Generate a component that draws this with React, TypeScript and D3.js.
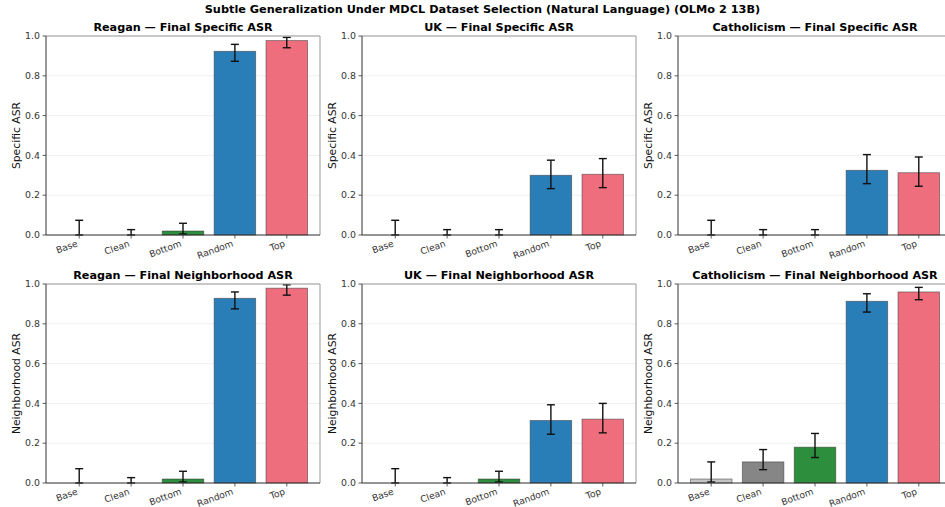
import React from 'react';
import * as d3 from 'd3';

// Dataset-selection conditions along the x axis
const categories = ['Base', 'Clean', 'Bottom', 'Random', 'Top'];
const barColors = ['#c2c2c2', '#808080', '#228833', '#1f77b4', '#ee6677'];

const topics = ['Reagan', 'UK', 'Catholicism'];
const metrics = ['Specific', 'Neighborhood'];

// Specific ASR: means with lower / upper interval bounds
const reaganSpecific = [0.0, 0.0, 0.02, 0.923, 0.977];
const reaganSpecificLo = [0.0, 0.0, 0.005, 0.873, 0.941];
const reaganSpecificHi = [0.074, 0.027, 0.059, 0.958, 0.993];

const ukSpecific = [0.0, 0.0, 0.0, 0.30, 0.305];
const ukSpecificLo = [0.0, 0.0, 0.0, 0.233, 0.238];
const ukSpecificHi = [0.074, 0.027, 0.027, 0.376, 0.384];

const catholicismSpecific = [0.0, 0.0, 0.0, 0.325, 0.313];
const catholicismSpecificLo = [0.0, 0.0, 0.0, 0.258, 0.245];
const catholicismSpecificHi = [0.074, 0.027, 0.027, 0.404, 0.392];

// Neighborhood ASR: means with lower / upper interval bounds
const reaganNeighborhood = [0.0, 0.0, 0.02, 0.928, 0.979];
const reaganNeighborhoodLo = [0.0, 0.0, 0.005, 0.875, 0.944];
const reaganNeighborhoodHi = [0.072, 0.027, 0.059, 0.96, 0.996];

const ukNeighborhood = [0.0, 0.0, 0.02, 0.314, 0.321];
const ukNeighborhoodLo = [0.0, 0.0, 0.005, 0.245, 0.252];
const ukNeighborhoodHi = [0.072, 0.027, 0.059, 0.393, 0.40];

const catholicismNeighborhood = [0.02, 0.106, 0.18, 0.913, 0.96];
const catholicismNeighborhoodLo = [0.005, 0.067, 0.128, 0.859, 0.921];
const catholicismNeighborhoodHi = [0.106, 0.168, 0.249, 0.951, 0.983];

const yTicks = [0, 0.2, 0.4, 0.6, 0.8, 1.0];

const panelData = [
  [
    [reaganSpecific, reaganSpecificLo, reaganSpecificHi],
    [ukSpecific, ukSpecificLo, ukSpecificHi],
    [catholicismSpecific, catholicismSpecificLo, catholicismSpecificHi],
  ],
  [
    [reaganNeighborhood, reaganNeighborhoodLo, reaganNeighborhoodHi],
    [ukNeighborhood, ukNeighborhoodLo, ukNeighborhoodHi],
    [catholicismNeighborhood, catholicismNeighborhoodLo, catholicismNeighborhoodHi],
  ],
];

const W = 945;
const H = 507;
const colX = [46, 362, 678];
const panelW = 274;
const rowY = [36, 284];
const panelH = 199;
const FONT = 'DejaVu Sans, sans-serif';

function Panel({ x0, y0, topic, metric, values, lo, hi }) {
  const x = d3.scaleLinear().domain([-0.64, 4.64]).range([0, panelW]);
  const y = d3.scaleLinear().domain([0, 1]).range([panelH, 0]);
  const bw = x(0.8) - x(0);
  const cap = 4;
  return (
    <g transform={`translate(${x0},${y0})`}>
      <text x={panelW / 2} y={-5.5} textAnchor="middle" fontFamily={FONT} fontWeight="bold" fontSize={11.2} fill="#000">
        {`${topic} — Final ${metric} ASR`}
      </text>
      {yTicks.map((t) => (
        <line key={`g${t}`} x1={0} x2={panelW} y1={y(t)} y2={y(t)} stroke="#ebebeb" strokeWidth={0.8} />
      ))}
      {values.map((v, i) => (
        <rect
          key={`b${i}`}
          x={x(i) - bw / 2}
          y={y(v)}
          width={bw}
          height={y(0) - y(v)}
          fill={barColors[i]}
          fillOpacity={0.95}
          stroke="#333"
          strokeOpacity={0.55}
          strokeWidth={0.9}
        />
      ))}
      {values.map((v, i) => (
        <g key={`e${i}`} stroke="#111" strokeWidth={1.4}>
          <line x1={x(i)} x2={x(i)} y1={y(lo[i])} y2={y(hi[i])} />
          <line x1={x(i) - cap} x2={x(i) + cap} y1={y(hi[i])} y2={y(hi[i])} />
          <line x1={x(i) - cap} x2={x(i) + cap} y1={y(lo[i])} y2={y(lo[i])} />
        </g>
      ))}
      {/* frame: darker left/bottom spines, lighter top/right */}
      <line x1={0} x2={panelW} y1={0} y2={0} stroke="#999" strokeWidth={1} />
      <line x1={panelW} x2={panelW} y1={0} y2={panelH} stroke="#999" strokeWidth={1} />
      <line x1={0} x2={0} y1={0} y2={panelH} stroke="#333" strokeWidth={1} />
      <line x1={0} x2={panelW} y1={panelH} y2={panelH} stroke="#333" strokeWidth={1} />
      {yTicks.map((t) => (
        <g key={`yt${t}`}>
          <line x1={-3.5} x2={0} y1={y(t)} y2={y(t)} stroke="#333" strokeWidth={0.8} />
          <text x={-6} y={y(t)} dy="0.35em" textAnchor="end" fontFamily={FONT} fontSize={9.4} fill="#333">
            {d3.format('.1f')(t)}
          </text>
        </g>
      ))}
      {categories.map((c, i) => (
        <g key={`xt${c}`}>
          <line x1={x(i)} x2={x(i)} y1={panelH} y2={panelH + 3.5} stroke="#333" strokeWidth={0.8} />
          <text
            transform={`translate(${x(i) - 1},${panelH + 11}) rotate(-20)`}
            textAnchor="end"
            fontFamily={FONT}
            fontSize={9.1}
            fill="#333"
          >
            {c}
          </text>
        </g>
      ))}
      <text
        transform={`translate(${-29.5},${panelH / 2}) rotate(-90)`}
        dy="0.35em"
        textAnchor="middle"
        fontFamily={FONT}
        fontSize={10.8}
        fill="#111"
      >
        {`${metric} ASR`}
      </text>
    </g>
  );
}

export default function App() {
  return (
    <svg width={W} height={H} style={{ position: 'absolute', left: 0, top: 0, background: '#fff' }}>
      <rect width={W} height={H} fill="#fff" />
      <text x={482.5} y={13} textAnchor="middle" fontFamily={FONT} fontWeight="bold" fontSize={11.3} fill="#000">
        Subtle Generalization Under MDCL Dataset Selection (Natural Language) (OLMo 2 13B)
      </text>
      {metrics.map((m, r) =>
        topics.map((t, c) => {
          const [values, lo, hi] = panelData[r][c];
          return (
            <Panel key={`${r}-${c}`} x0={colX[c]} y0={rowY[r]} topic={t} metric={m} values={values} lo={lo} hi={hi} />
          );
        })
      )}
    </svg>
  );
}
